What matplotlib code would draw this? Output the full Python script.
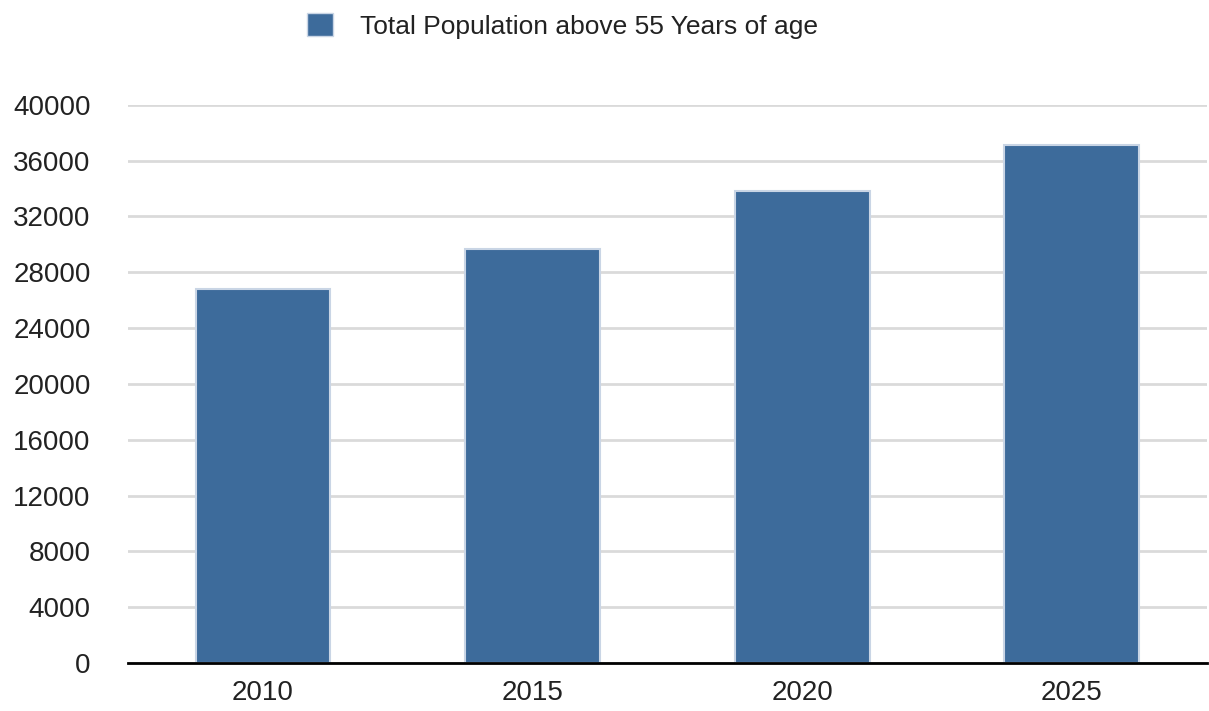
import matplotlib.pyplot as plt
from matplotlib.patches import Patch

# Population above 55, by year
years = ["2010", "2015", "2020", "2025"]
population = [26800, 29700, 33800, 37100]
yticks = list(range(0, 40001, 4000))

plt.rcParams["font.family"] = ["Liberation Sans", "DejaVu Sans"]

fig = plt.figure(figsize=(12.09, 7.11), dpi=100)
ax = fig.add_axes([0.106, 0.0675, 0.892, 0.785])

bar_color = "#3d6b9b"
ax.bar(years, population, width=0.5, color=bar_color,
       edgecolor="#c9d5e5", linewidth=1.5, zorder=3)

ax.set_ylim(0, 40000)
ax.set_xlim(-0.5, 3.5)
ax.set_yticks(yticks)
ax.set_yticklabels([str(t) for t in yticks])
ax.grid(axis="y", color="#dadada", linewidth=2, zorder=0)

for side in ["top", "right", "left"]:
    ax.spines[side].set_visible(False)
ax.spines["bottom"].set_color("black")
ax.spines["bottom"].set_linewidth(2)
ax.spines["bottom"].set_zorder(4)

ax.tick_params(axis="y", length=0, pad=27, labelsize=20, labelcolor="#222222")
ax.tick_params(axis="x", length=0, pad=12, labelsize=20, labelcolor="#222222")

handle = Patch(facecolor=bar_color, edgecolor="#c9d5e5", linewidth=1)
fig.legend([handle], ["Total Population above 55 Years of age"],
           loc="center", bbox_to_anchor=(0.465, 0.964), frameon=False,
           fontsize=19, handlelength=1.0, handleheight=1.0,
           handletextpad=1.0, labelcolor="#222222")

plt.savefig("out.png", dpi=100)
